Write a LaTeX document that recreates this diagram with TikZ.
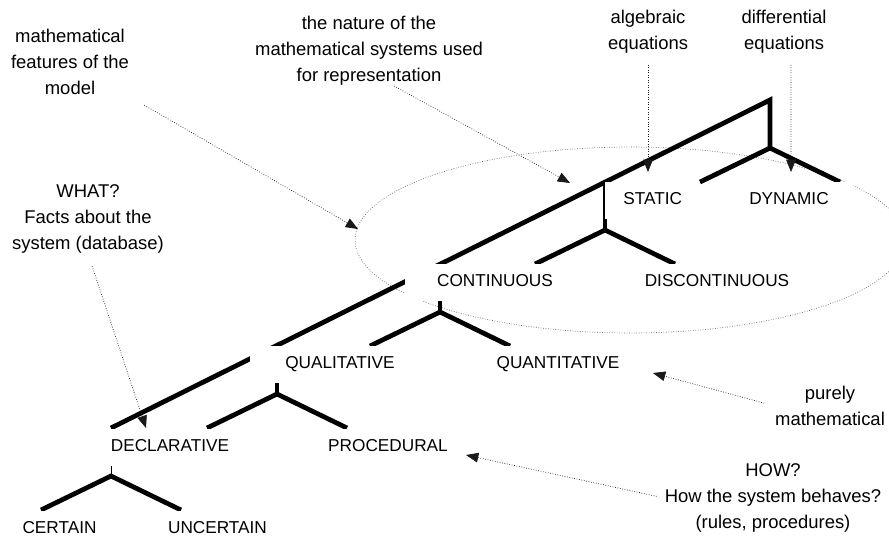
\documentclass[tikz,border=0pt]{standalone}
\usepackage{fontspec}
\setmainfont{Liberation Sans}
\usetikzlibrary{arrows.meta}

\begin{document}
\begin{tikzpicture}[
x=0.02cm, y=-0.02cm,
lbl/.style={fill=white, inner sep=0pt, minimum height=0.74cm, text height=7pt, text depth=2.3pt, font=\fontsize{9.8}{12}\selectfont},
spine/.style={lbl, minimum width=3.6cm},
note/.style={align=center, inner sep=0pt, font=\fontsize{10.5}{14.8}\selectfont},
tree/.style={line width=2.7pt},
arr/.style={densely dotted, thin, black!90, -{Triangle[length=7pt, width=5.5pt]}},
ring/.style={densely dotted, thin, black!60}
]
\useasboundingbox (0,0) rectangle (889,539);

\coordinate (r1) at (770,100);
\coordinate (r2) at (605,182);
\coordinate (r3) at (440,264);
\coordinate (r4) at (277,346);
\coordinate (r5) at (111,428);
\coordinate (f1) at (770,148);
\coordinate (f2) at (605,230);
\coordinate (f3) at (440,312);
\coordinate (f4) at (277,394);
\coordinate (f5) at (111,476);

\draw[ring] (630,240) ellipse [x radius=5.5cm, y radius=1.86cm];

\draw[tree] (r5) -- (r1) -- (f1);
\foreach \r/\f in {r2/f2,r3/f3,r4/f4}
  \draw[tree] (\r) -- (\f);
\draw (r5) -- (f5);
\foreach \f in {f1,f2,f3,f4,f5}
  \draw[tree] (\f) ++(-70,34) -- (\f) -- ++(70,34);

\node[lbl, minimum width=1.9cm] (static) at (652.75,200.5) {STATIC};
\node[lbl, minimum width=2.56cm] (dynamic) at (789,200.5) {DYNAMIC};
\node[spine] (cont) at (495,282.5) {CONTINUOUS};
\node[lbl] (discont) at (717,282.5) {DISCONTINUOUS};
\node[spine] (qual) at (340,364.5) {QUALITATIVE};
\node[lbl] (quant) at (558,364.5) {QUANTITATIVE};
\node[spine] (decl) at (170,447.5) {DECLARATIVE};
\node[lbl] (proc) at (388,447.5) {PROCEDURAL};
\node[lbl] (certain) at (59.5,529) {CERTAIN};
\node[lbl] (uncertain) at (217.5,529) {UNCERTAIN};

\node[note] (feat) at (70,62) {mathematical\\features of the\\model};
\node[note] (nature) at (369,51) {the nature of the\\mathematical systems used\\for representation};
\node[note] (alg) at (648,32) {algebraic\\equations};
\node[note] (diff) at (784,32) {differential\\equations};
\node[note] (what) at (88,219) {WHAT?\\Facts about the\\system (database)};
\node[note] (pure) at (830,406) {purely\\mathematical};
\node[note] (how) at (773,498) {HOW?\\How the system behaves?\\(rules, procedures)};

\coordinate (t1) at (358,229);
\coordinate (t2) at (570,183);
\coordinate (t3) at (648,172);
\coordinate (t4) at (791,172);
\coordinate (t5) at (146,428);
\coordinate (t6) at (653,373);
\coordinate (t7) at (466,455);

\draw[arr, shorten <=0.4cm] (feat) -- (t1);
\draw[arr] ([xshift=0.5cm]nature.south) -- (t2);
\draw[arr, shorten <=0.22cm] (alg.south) -- (t3);
\draw[arr, shorten <=0.22cm] ([xshift=0.14cm]diff.south) -- (t4);
\draw[arr, shorten <=0.26cm] (what.south) -- (t5);
\draw[arr, shorten <=0.22cm] (pure.west) -- (t6);
\draw[arr, shorten <=0.16cm] (how.west) -- (t7);
\end{tikzpicture}
\end{document}
